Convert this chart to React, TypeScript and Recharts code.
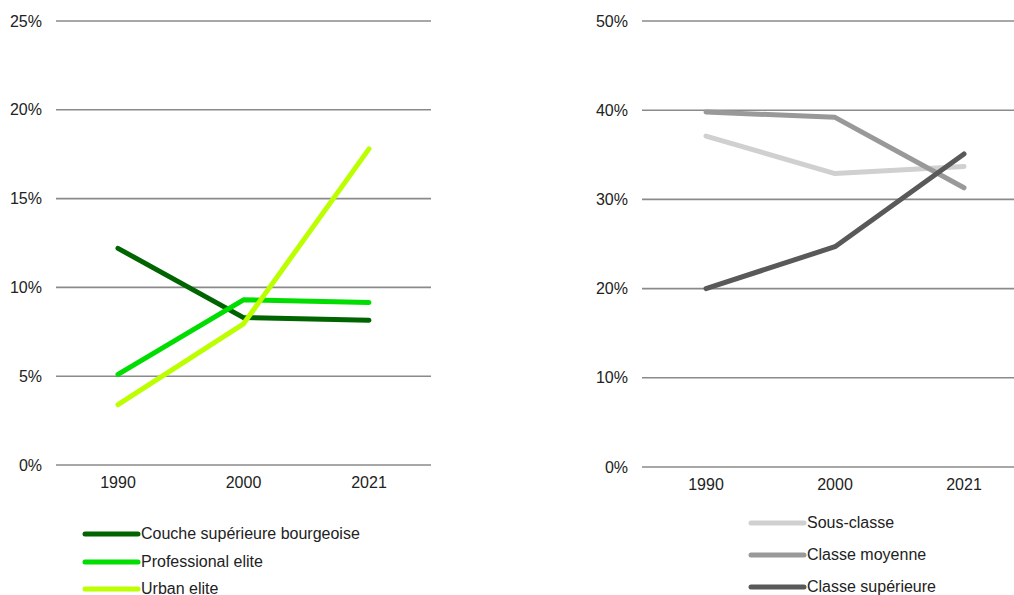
import { CartesianGrid, Line, LineChart, XAxis, YAxis } from "recharts";

const years = ["1990", "2000", "2021"];

// part de chaque groupe d'élite (%)
const bourgeoise = [12.2, 8.3, 8.15];
const professional = [5.1, 9.3, 9.15];
const urban = [3.4, 7.95, 17.8];

// répartition par classe (%)
const sousClasse = [37.1, 32.9, 33.7];
const classeMoyenne = [39.8, 39.2, 31.3];
const classeSuperieure = [20.0, 24.7, 35.1];

const eliteTicks = [0, 5, 10, 15, 20, 25];
const classTicks = [0, 10, 20, 30, 40, 50];

const eliteSeries = [
  { key: "bourgeoise", name: "Couche supérieure bourgeoise", color: "#006400", values: bourgeoise },
  { key: "professional", name: "Professional elite", color: "#00dd00", values: professional },
  { key: "urban", name: "Urban elite", color: "#bbff00", values: urban },
];

const classSeries = [
  { key: "sous", name: "Sous-classe", color: "#d0d0d0", values: sousClasse },
  { key: "moyenne", name: "Classe moyenne", color: "#999999", values: classeMoyenne },
  { key: "superieure", name: "Classe supérieure", color: "#595959", values: classeSuperieure },
];

type Series = { key: string; name: string; color: string; values: number[] };

const FONT = "'Liberation Sans', Arial, sans-serif";
const tickStyle = { fontSize: 16, fill: "#222", fontFamily: FONT };

function buildRows(series: Series[]) {
  return years.map((year, i) => {
    const row: Record<string, string | number> = { year };
    series.forEach((s) => (row[s.key] = s.values[i]));
    return row;
  });
}

function Panel({
  series,
  ticks,
  width,
  height,
  pad,
}: {
  series: Series[];
  ticks: number[];
  width: number;
  height: number;
  pad: number;
}) {
  return (
    <LineChart
      width={width}
      height={height}
      data={buildRows(series)}
      margin={{ top: 21, right: 0, bottom: 0, left: 0 }}
    >
      <CartesianGrid vertical={false} stroke="#8a8a8a" strokeWidth={1.6} />
      <XAxis
        dataKey="year"
        axisLine={false}
        tickLine={false}
        tickSize={0}
        tickMargin={12}
        height={34}
        padding={{ left: pad, right: pad }}
        tick={tickStyle}
      />
      <YAxis
        domain={[ticks[0], ticks[ticks.length - 1]]}
        ticks={ticks}
        axisLine={false}
        tickLine={false}
        tickSize={0}
        tickMargin={14}
        width={56}
        tickFormatter={(v) => `${v}%`}
        tick={tickStyle}
      />
      {series.map((s) => (
        <Line
          key={s.key}
          dataKey={s.key}
          name={s.name}
          stroke={s.color}
          strokeWidth={5}
          strokeLinecap="round"
          strokeLinejoin="round"
          dot={false}
          activeDot={false}
          isAnimationActive={false}
        />
      ))}
    </LineChart>
  );
}

function LegendBlock({
  series,
  left,
  top,
  rowGap,
}: {
  series: Series[];
  left: number;
  top: number;
  rowGap: number;
}) {
  return (
    <div style={{ position: "absolute", left, top }}>
      {series.map((s, i) => (
        <div
          key={s.key}
          style={{
            position: "absolute",
            top: i * rowGap,
            left: 0,
            display: "flex",
            alignItems: "center",
            height: 20,
            marginTop: -10,
            whiteSpace: "nowrap",
          }}
        >
          <svg width={59} height={8} style={{ display: "block" }}>
            <line x1={3} y1={4} x2={56} y2={4} stroke={s.color} strokeWidth={5} strokeLinecap="round" />
          </svg>
          <span style={{ fontFamily: FONT, fontSize: 16, color: "#222" }}>{s.name}</span>
        </div>
      ))}
    </div>
  );
}

export default function App() {
  return (
    <div
      style={{
        position: "fixed",
        left: 0,
        top: 0,
        width: 1014,
        height: 595,
        overflow: "hidden",
        background: "#fff",
      }}
    >
      <div style={{ position: "absolute", left: 0, top: 0 }}>
        <Panel series={eliteSeries} ticks={eliteTicks} width={431} height={499} pad={62} />
      </div>
      <div style={{ position: "absolute", left: 586, top: 0 }}>
        <Panel series={classSeries} ticks={classTicks} width={442} height={501} pad={64} />
      </div>
      <LegendBlock series={eliteSeries} left={82} top={534} rowGap={27.5} />
      <LegendBlock series={classSeries} left={748} top={523} rowGap={32} />
    </div>
  );
}
